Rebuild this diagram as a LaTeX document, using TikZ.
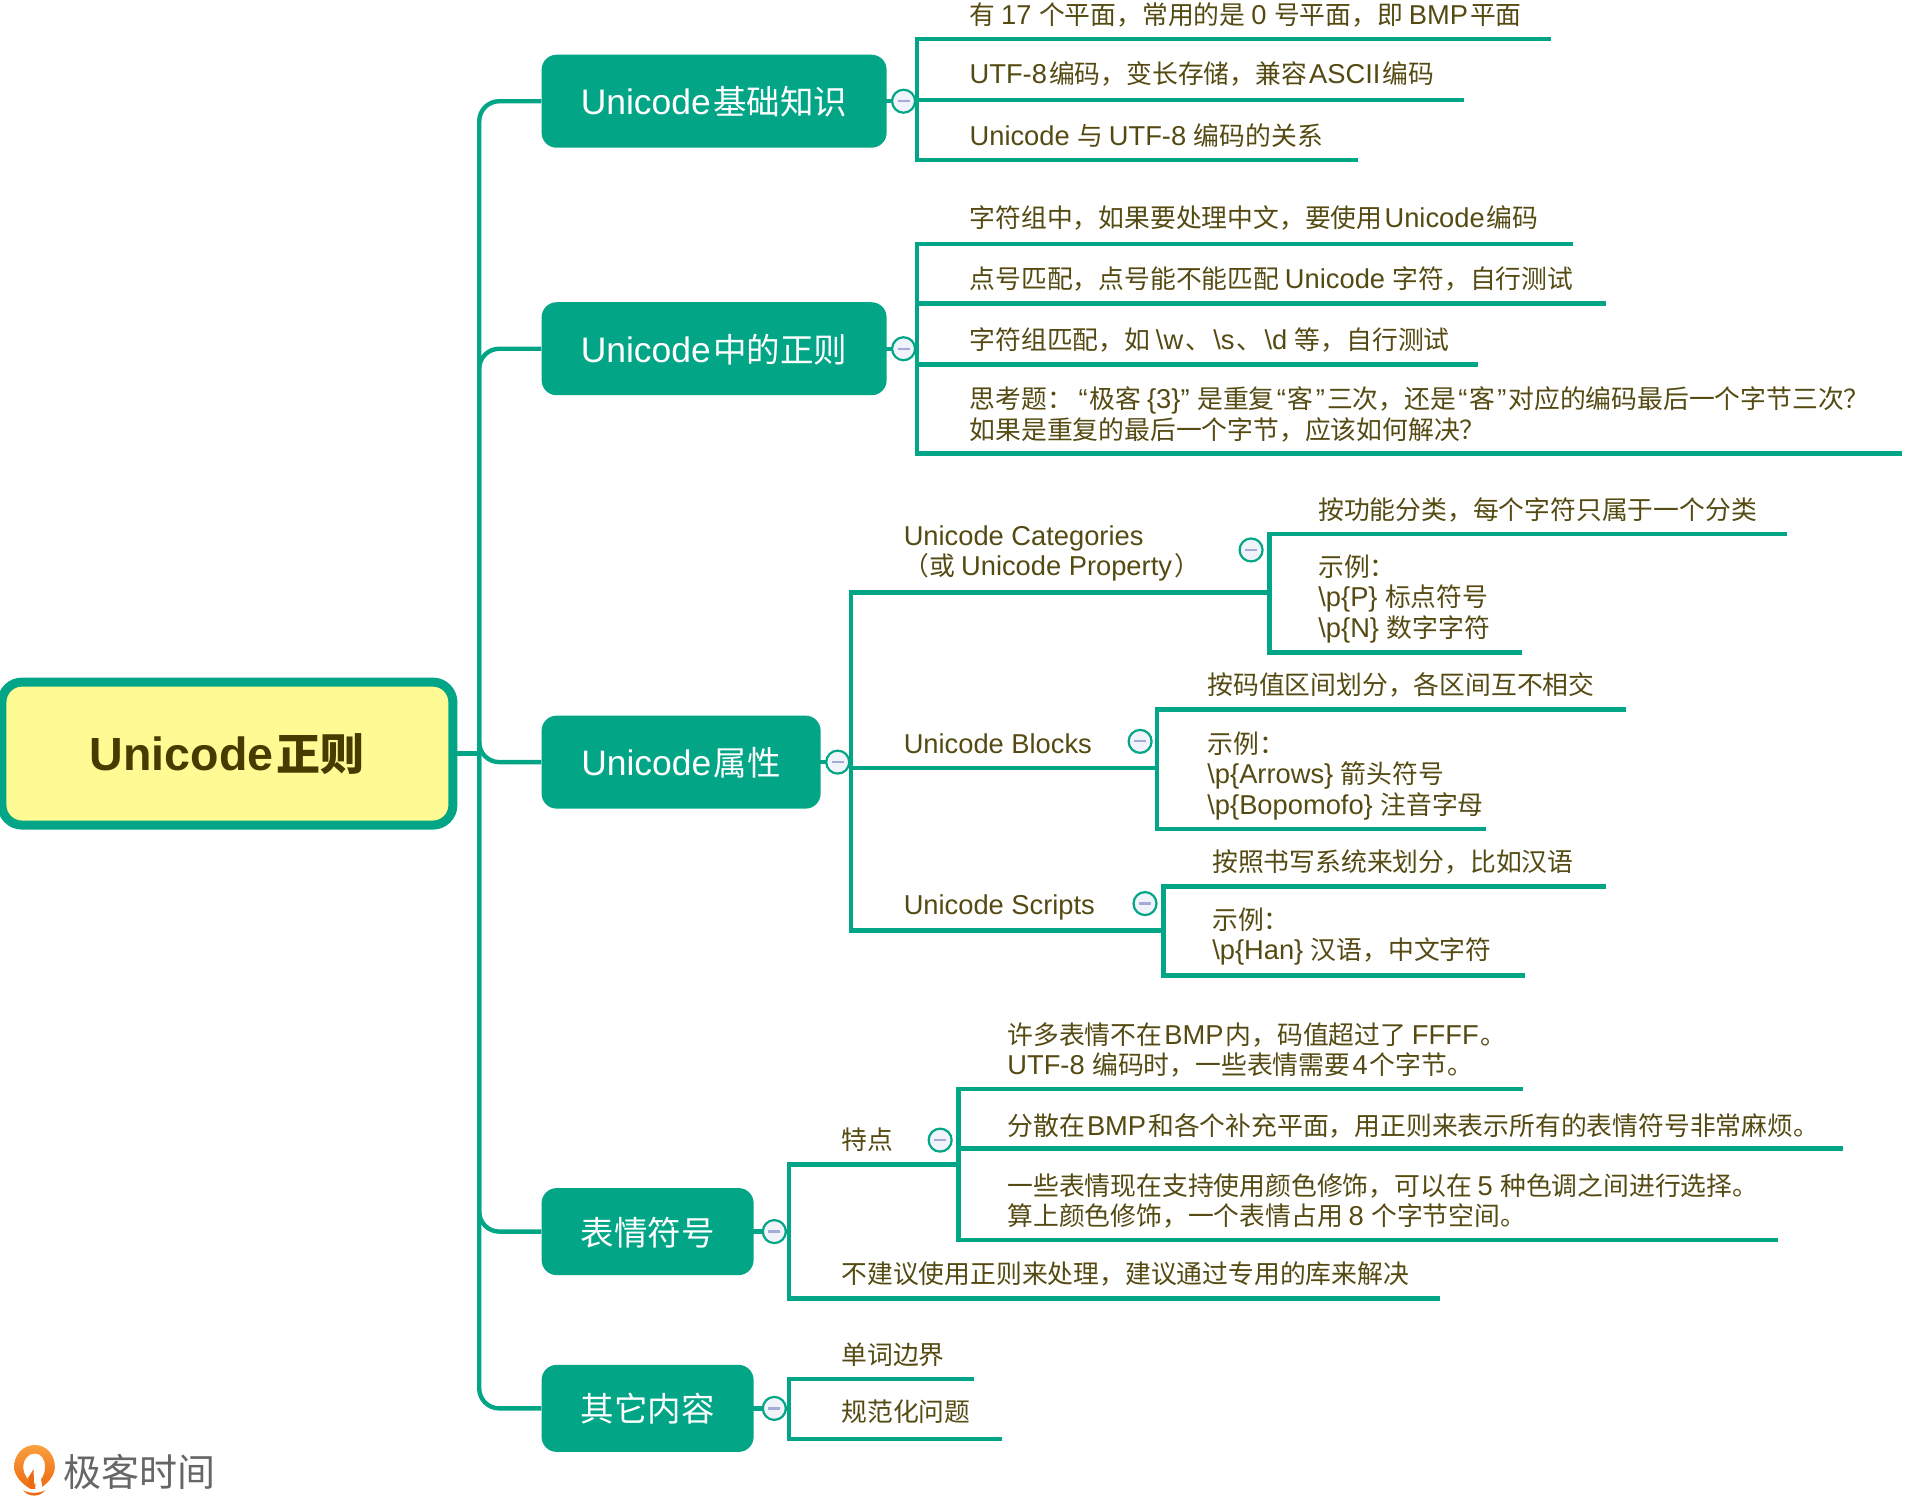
\documentclass[tikz,border=0pt]{standalone}
\usepackage{fontspec}
\setmainfont[Scale=1.058]{Liberation Sans}
\newfontfamily\cjk{Noto Sans CJK SC}
\usetikzlibrary{arrows.meta, positioning}
\definecolor{mint}{HTML}{02A687}
\definecolor{ink}{HTML}{544A12}
\definecolor{rootink}{HTML}{463C00}
\definecolor{rootfill}{HTML}{FFFB94}
\definecolor{foldfill}{HTML}{F0F4FA}
\definecolor{foldbar}{HTML}{A3ABD6}
\definecolor{logoink}{HTML}{666666}
\definecolor{logotop}{HTML}{F9A03F}
\definecolor{logobot}{HTML}{EE6A12}
% switch between Latin and CJK fonts inside one text
\newXeTeXintercharclass\cjkcls
\count255="3000
\loop \XeTeXcharclass\count255=\cjkcls \ifnum\count255<"9FFF \advance\count255 by 1 \repeat
\count255="FF00
\loop \XeTeXcharclass\count255=\cjkcls \ifnum\count255<"FFEF \advance\count255 by 1 \repeat
\XeTeXinterchartokenstate=1
\XeTeXinterchartoks 0 \cjkcls = {\cjk\kern.08em }
\XeTeXinterchartoks 4095 \cjkcls = {\cjk}
\XeTeXinterchartoks \cjkcls 0 = {\rmfamily\kern.08em }
\XeTeXinterchartoks 4095 0 = {\rmfamily}
\begin{document}
\begin{tikzpicture}[
  x=1.2194pt, y=-1.2194pt,
  every node/.style={font=\fontsize{25.8}{30.5}\selectfont, text=ink},
  rootbox/.style={draw=mint, line width=9pt, fill=rootfill, rounded corners=20pt,
                  minimum width=451pt, minimum height=143pt, text=rootink,
                  text height=38pt, text depth=5pt,
                  font=\fontsize{44}{50}\selectfont\bfseries},
  branch/.style={fill=mint, text=white, rounded corners=15pt, anchor=west,
                 inner xsep=39pt, text height=31pt, text depth=4pt, minimum height=93pt,
                 font=\fontsize{33.5}{38}\selectfont},
  fold/.style={circle, draw=mint, line width=2.2pt, fill=foldfill, minimum size=23pt,
               inner sep=0pt, path picture={
                 \draw[foldbar, line width=2.2pt] ([xshift=-6pt]path picture bounding box.center)
                   -- ([xshift=6pt]path picture bounding box.center);}},
  leaf/.style={anchor=west, align=left, inner sep=0pt},
  link/.style={draw=mint, line width=4.4pt, line cap=rect},
  spine/.style={draw=mint, line width=4.4pt, rounded corners=20pt},
]
  \useasboundingbox (0,0) rectangle (1568,1233);

  % Root and spine
  \node[rootbox] (root) at (186.5,618) {Unicode正则};
  \coordinate (hub) at (393,618);
  \draw[link] (root) -- (hub);

  % Branches
  \node[branch, minimum width=345pt] (basics) at (444,83) {Unicode基础知识};
  \node[branch, minimum width=345pt] (regex) at (444,286) {Unicode中的正则};
  \node[branch, minimum width=279pt] (props) at (444,625) {Unicode属性};
  \node[branch, minimum height=87pt] (emoji) at (444,1010) {表情符号};
  \node[branch, minimum height=87pt] (others) at (444,1155) {其它内容};
  \foreach \b in {basics, regex, props, emoji, others}
    \draw[spine] (hub) |- (\b);

  % Folds on branches and on sub-labels
  \foreach \f/\x/\y in {basics/741/83, regex/741/286, props/687/625, emoji/635/1010,
                        others/635/1155, cats/1026/451, blocks/935/608, scripts/939/741, traits/771/935}
    \node[fold] (\f fold) at (\x,\y) {};

  % Unicode基础知识
  \coordinate (bar1) at (752,83);
  \draw[link] (basicsfold) -- (bar1);
  \draw[link] (basics) -- (basicsfold);
  \coordinate (bar1t) at (752,32);
  \coordinate (bar1b) at (752,131);
  \draw[link] (bar1t) -- (bar1b);
  \foreach \n/\ty/\ly/\e/\t in {
    planes/12/32/1270/{有 17 个平面，常用的是 0 号平面，即 BMP平面},
    utf/61/82/1199/{UTF-8编码，变长存储，兼容ASCII编码},
    relation/111/131/1112/{Unicode 与 UTF-8 编码的关系}} {
    \node[leaf] (\n) at (795,\ty) {\t};
    \coordinate (\n l) at (752,\ly);
    \coordinate (\n r) at (\e,\ly);
    \draw[link] (\n l) -- (\n r);
  }

  % Unicode中的正则
  \coordinate (bar2) at (752,286);
  \draw[link] (regex) -- (regexfold);
  \draw[link] (regexfold) -- (bar2);
  \coordinate (bar2t) at (752,200);
  \coordinate (bar2b) at (752,372);
  \draw[link] (bar2t) -- (bar2b);
  \foreach \n/\ty/\ly/\e/\t in {
    group/179/200/1288/{字符组中，如果要处理中文，要使用Unicode编码},
    dot/229/249/1315/{点号匹配，点号能不能匹配 Unicode 字符，自行测试},
    class/279/299/1210/{字符组匹配，如 \textbackslash w、\textbackslash s、\textbackslash d 等，自行测试},
    quiz/340/372/1558/{思考题： “极客 \{3\}” 是重复“客”三次，还是“客”对应的编码最后一个字节三次？\\如果是重复的最后一个字节，应该如何解决？}} {
    \node[leaf] (\n) at (795,\ty) {\t};
    \coordinate (\n l) at (752,\ly);
    \coordinate (\n r) at (\e,\ly);
    \draw[link] (\n l) -- (\n r);
  }

  % Unicode属性
  \coordinate (bar3) at (698,625);
  \draw[link] (props) -- (propsfold);
  \draw[link] (propsfold) -- (bar3);
  \coordinate (bar3t) at (698,486);
  \coordinate (bar3b) at (698,763);
  \draw[link] (bar3t) -- (bar3b);
  \foreach \n/\ty/\ly/\e/\t in {
    cats/454/486/1041/{Unicode Categories\\（或 Unicode Property）},
    blocks/610/630/949/{Unicode Blocks},
    scripts/744/763/954/{Unicode Scripts}} {
    \node[leaf] (\n) at (741,\ty) {\t};
    \coordinate (\n l) at (698,\ly);
    \coordinate (\n r) at (\e,\ly);
    \draw[link] (\n l) -- (\n r);
  }

  % Sub-trees of Unicode属性
  \foreach \n/\tx/\bx/\ty/\ly/\e/\t in {
    catsa/1081/1041/418/438/1464/{按功能分类，每个字符只属于一个分类},
    catsb/1081/1041/491/535/1246/{示例：\\\textbackslash p\{P\} 标点符号\\\textbackslash p\{N\} 数字字符},
    blocksa/990/949/562/582/1332/{按码值区间划分，各区间互不相交},
    blocksb/990/949/636/680/1217/{示例：\\\textbackslash p\{Arrows\} 箭头符号\\\textbackslash p\{Bopomofo\} 注音字母},
    scriptsa/994/954/707/727/1315/{按照书写系统来划分，比如汉语},
    scriptsb/994/954/768/800/1249/{示例：\\\textbackslash p\{Han\} 汉语，中文字符}} {
    \node[leaf] (\n) at (\tx,\ty) {\t};
    \coordinate (\n l) at (\bx,\ly);
    \coordinate (\n r) at (\e,\ly);
    \draw[link] (\n l) -- (\n r);
  }
  \foreach \n in {cats, blocks, scripts}
    \draw[link] (\n al) -- (\n bl);

  % 表情符号
  \coordinate (bar4) at (647,1010);
  \draw[link] (emoji) -- (emojifold);
  \draw[link] (emojifold) -- (bar4);
  \foreach \n/\ty/\ly/\e/\t in {
    traits/935/955/786/{特点},
    advice/1045/1065/1179/{不建议使用正则来处理，建议通过专用的库来解决}} {
    \node[leaf] (\n) at (690,\ty) {\t};
    \coordinate (\n l) at (647,\ly);
    \coordinate (\n r) at (\e,\ly);
    \draw[link] (\n l) -- (\n r);
  }
  \draw[link] (traitsl) -- (advicel);
  \foreach \n/\ty/\ly/\e/\t in {
    trouta/861/893/1247/{许多表情不在BMP内，码值超过了 FFFF。\\UTF-8 编码时，一些表情需要4个字节。},
    troutb/923/942/1510/{分散在BMP和各个补充平面，用正则来表示所有的表情符号非常麻烦。},
    troutc/985/1017/1456/{一些表情现在支持使用颜色修饰，可以在 5 种色调之间进行选择。\\算上颜色修饰，一个表情占用 8 个字节空间。}} {
    \node[leaf] (\n) at (826,\ty) {\t};
    \coordinate (\n l) at (786,\ly);
    \coordinate (\n r) at (\e,\ly);
    \draw[link] (\n l) -- (\n r);
  }
  \draw[link] (troutal) -- (troutcl);

  % 其它内容
  \coordinate (bar5) at (647,1155);
  \draw[link] (others) -- (othersfold);
  \draw[link] (othersfold) -- (bar5);
  \foreach \n/\ty/\ly/\e/\t in {
    words/1111/1131/797/{单词边界},
    norm/1158/1180/820/{规范化问题}} {
    \node[leaf] (\n) at (690,\ty) {\t};
    \coordinate (\n l) at (647,\ly);
    \coordinate (\n r) at (\e,\ly);
    \draw[link] (\n l) -- (\n r);
  }
  \draw[link] (wordsl) -- (norml);

  % Logo
  \shade[top color=logotop, bottom color=logobot, even odd rule]
    (28.5,1185) .. controls (38,1185) and (45,1193) .. (45,1203)
    .. controls (45,1210) and (39,1217) .. (32,1221) -- (25,1221)
    .. controls (18,1217) and (11.5,1210) .. (11.5,1203)
    .. controls (11.5,1193) and (19,1185) .. (28.5,1185) -- cycle
    (28.5,1192) .. controls (23,1192) and (19,1197) .. (19,1203)
    .. controls (19,1209) and (23,1215) .. (28.5,1217)
    .. controls (34,1215) and (37,1209) .. (37,1203)
    .. controls (37,1197) and (34,1192) .. (28.5,1192) -- cycle;
  \fill[logobot] (25,1219) -- (23,1212) -- (27.5,1205) -- (28,1219) -- cycle;
  \fill[white] (29,1209) -- (33,1209) -- (35,1222) -- (29,1222) -- cycle;
  \fill[logobot] (19,1222) .. controls (24,1225) and (32,1225) .. (37,1222)
    .. controls (33,1228) and (23,1228) .. (19,1222) -- cycle;
  \node[leaf, text=logoink, font=\fontsize{38}{40}\selectfont] (logo) at (52,1207) {极客时间};
\end{tikzpicture}
\end{document}
